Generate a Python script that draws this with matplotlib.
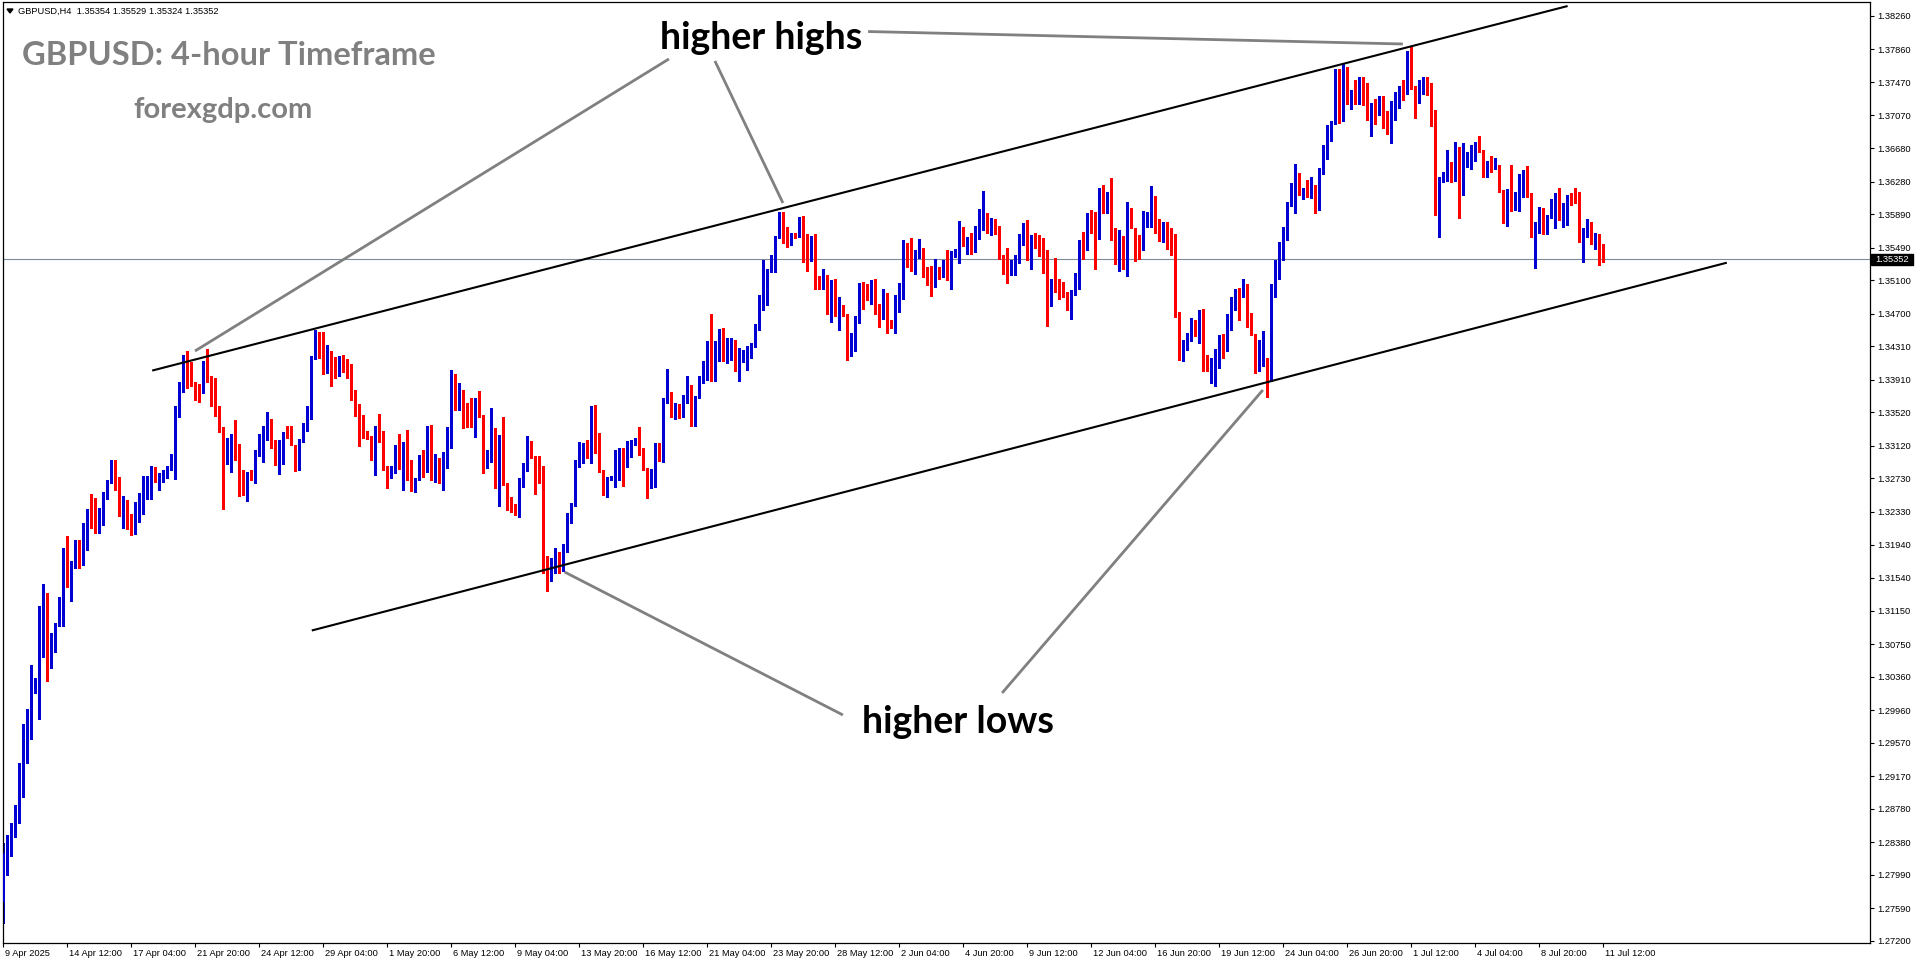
import numpy as np
import matplotlib
matplotlib.use('Agg')
import matplotlib.pyplot as plt
from matplotlib.patches import Rectangle, Polygon
from matplotlib.transforms import ScaledTranslation

# GBPUSD H4 candles (open = previous close)
first_open = 1.2766
last_open = 1.35354
closes = [
    1.2825, 1.2844, 1.2859, 1.2869, 1.2926, 1.2955, 1.2971, 1.3019, 1.3022, 1.3112,
    1.3126, 1.3052, 1.3081, 1.3096, 1.3106, 1.3174, 1.3147, 1.3169, 1.3193, 1.3175,
    1.3215, 1.3233, 1.3226, 1.3214, 1.3234, 1.3250, 1.3268, 1.3293, 1.3262, 1.3237,
    1.3244, 1.3214, 1.3212, 1.3243, 1.3252, 1.3261, 1.3272, 1.3285, 1.3270, 1.3276,
    1.3280, 1.3286, 1.3298, 1.3350, 1.3387, 1.3418, 1.3408, 1.3388, 1.3384, 1.3375,
    1.3407, 1.3391, 1.3375, 1.3349, 1.3335, 1.3308, 1.3310, 1.3322, 1.3307, 1.3264,
    1.3257, 1.3279, 1.3273, 1.3305, 1.3305, 1.3333, 1.3343, 1.3310, 1.3290, 1.3306,
    1.3327, 1.3324, 1.3313, 1.3293, 1.3318, 1.3333, 1.3357, 1.3418, 1.3448, 1.3426,
    1.3399, 1.3414, 1.3412, 1.3410, 1.3411, 1.3407, 1.3394, 1.3371, 1.3355, 1.3349,
    1.3329, 1.3322, 1.3297, 1.3328, 1.3319, 1.3285, 1.3281, 1.3282, 1.3312, 1.3286,
    1.3291, 1.3273, 1.3261, 1.3271, 1.3296, 1.3281, 1.3330, 1.3273, 1.3298, 1.3268,
    1.3304, 1.3315, 1.3397, 1.3357, 1.3369, 1.3352, 1.3342, 1.3336, 1.3367, 1.3348,
    1.3291, 1.3296, 1.3332, 1.3266, 1.3324, 1.3266, 1.3244, 1.3239, 1.3234, 1.3271,
    1.3285, 1.3307, 1.3300, 1.3289, 1.3286, 1.3172, 1.3158, 1.3170, 1.3178, 1.3168,
    1.3190, 1.3225, 1.3240, 1.3293, 1.3304, 1.3314, 1.3304, 1.3348, 1.3326, 1.3282,
    1.3259, 1.3273, 1.3274, 1.3290, 1.3305, 1.3289, 1.3301, 1.3316, 1.3319, 1.3303,
    1.3284, 1.3268, 1.3283, 1.3313, 1.3300, 1.3368, 1.3372, 1.3355, 1.3362, 1.3356,
    1.3364, 1.3374, 1.3340, 1.3371, 1.3393, 1.3409, 1.3431, 1.3399, 1.3423, 1.3447,
    1.3419, 1.3425, 1.3429, 1.3403, 1.3414, 1.3418, 1.3419, 1.3433, 1.3452, 1.3488,
    1.3518, 1.3522, 1.3537, 1.3561, 1.3583, 1.3564, 1.3556, 1.3564, 1.3562, 1.3584,
    1.3554, 1.3535, 1.3562, 1.3507, 1.3506, 1.3515, 1.3472, 1.3510, 1.3468, 1.3475,
    1.3468, 1.3427, 1.3441, 1.3461, 1.3502, 1.3492, 1.3490, 1.3497, 1.3471, 1.3466,
    1.3493, 1.3461, 1.3454, 1.3489, 1.3490, 1.3544, 1.3541, 1.3527, 1.3544, 1.3547,
    1.3524, 1.3514, 1.3503, 1.3518, 1.3517, 1.3527, 1.3511, 1.3540, 1.3544, 1.3571,
    1.3552, 1.3560, 1.3546, 1.3568, 1.3580, 1.3587, 1.3569, 1.3580, 1.3575, 1.3538,
    1.3535, 1.3519, 1.3525, 1.3532, 1.3554, 1.3573, 1.3535, 1.3559, 1.3549, 1.3544,
    1.3538, 1.3486, 1.3508, 1.3498, 1.3497, 1.3491, 1.3482, 1.3494, 1.3518, 1.3549,
    1.3546, 1.3583, 1.3582, 1.3565, 1.3611, 1.3591, 1.3613, 1.3569, 1.3533, 1.3559,
    1.3533, 1.3595, 1.3573, 1.3550, 1.3546, 1.3579, 1.3583, 1.3608, 1.3575, 1.3567,
    1.3573, 1.3548, 1.3547, 1.3471, 1.3428, 1.3431, 1.3445, 1.3453, 1.3447, 1.3458,
    1.3421, 1.3411, 1.3411, 1.3427, 1.3441, 1.3427, 1.3468, 1.3488, 1.3496, 1.3490,
    1.3501, 1.3470, 1.3446, 1.3402, 1.3411, 1.3415, 1.3393, 1.3492, 1.3530, 1.3548,
    1.3565, 1.3601, 1.3602, 1.3625, 1.3613, 1.3618, 1.3616, 1.3622, 1.3595, 1.3640,
    1.3664, 1.3690, 1.3700, 1.3749, 1.3700, 1.3755, 1.3725, 1.3730, 1.3722, 1.3743,
    1.3741, 1.3706, 1.3721, 1.3708, 1.3729, 1.3698, 1.3693, 1.3714, 1.3735, 1.3741,
    1.3739, 1.3774, 1.3741, 1.3724, 1.3746, 1.3749, 1.3743, 1.3698, 1.3608, 1.3632,
    1.3634, 1.3648, 1.3629, 1.3665, 1.3614, 1.3650, 1.3654, 1.3663, 1.3674, 1.3664,
    1.3635, 1.3648, 1.3643, 1.3647, 1.3617, 1.3580, 1.3618, 1.3594, 1.3601, 1.3628,
    1.3632, 1.3611, 1.3578, 1.3579, 1.3592, 1.3578, 1.3585, 1.3601, 1.3608, 1.3583,
    1.3585, 1.3610, 1.3608, 1.3606, 1.3559, 1.3564, 1.3580, 1.3554, 1.3557, 1.3535,
    1.35352,
]
highs = [
    1.2837, 1.2847, 1.2861, 1.2883, 1.2933, 1.2980, 1.2997, 1.3050, 1.3035, 1.3121,
    1.3147, 1.3136, 1.3088, 1.3100, 1.3131, 1.3190, 1.3204, 1.3174, 1.3200, 1.3200,
    1.3220, 1.3236, 1.3255, 1.3250, 1.3238, 1.3257, 1.3271, 1.3295, 1.3295, 1.3275,
    1.3252, 1.3247, 1.3231, 1.3245, 1.3256, 1.3276, 1.3276, 1.3288, 1.3287, 1.3280,
    1.3283, 1.3288, 1.3302, 1.3360, 1.3388, 1.3421, 1.3426, 1.3412, 1.3388, 1.3386,
    1.3414, 1.3428, 1.3395, 1.3393, 1.3360, 1.3333, 1.3321, 1.3326, 1.3343, 1.3314,
    1.3283, 1.3281, 1.3283, 1.3307, 1.3326, 1.3336, 1.3352, 1.3344, 1.3319, 1.3319,
    1.3329, 1.3336, 1.3336, 1.3312, 1.3320, 1.3339, 1.3360, 1.3419, 1.3450, 1.3448,
    1.3448, 1.3432, 1.3426, 1.3418, 1.3419, 1.3421, 1.3416, 1.3410, 1.3379, 1.3362,
    1.3349, 1.3330, 1.3324, 1.3336, 1.3350, 1.3330, 1.3288, 1.3288, 1.3313, 1.3326,
    1.3317, 1.3331, 1.3295, 1.3273, 1.3301, 1.3307, 1.3336, 1.3337, 1.3302, 1.3297,
    1.3305, 1.3335, 1.3403, 1.3398, 1.3387, 1.3379, 1.3363, 1.3369, 1.3369, 1.3378,
    1.3349, 1.3307, 1.3357, 1.3333, 1.3325, 1.3346, 1.3267, 1.3251, 1.3243, 1.3273,
    1.3291, 1.3324, 1.3318, 1.3296, 1.3300, 1.3288, 1.3180, 1.3178, 1.3190, 1.3185,
    1.3195, 1.3232, 1.3244, 1.3295, 1.3317, 1.3316, 1.3319, 1.3360, 1.3361, 1.3327,
    1.3283, 1.3275, 1.3276, 1.3307, 1.3309, 1.3309, 1.3318, 1.3319, 1.3321, 1.3334,
    1.3309, 1.3285, 1.3284, 1.3315, 1.3315, 1.3369, 1.3404, 1.3376, 1.3363, 1.3359,
    1.3373, 1.3395, 1.3385, 1.3372, 1.3395, 1.3413, 1.3437, 1.3470, 1.3437, 1.3452,
    1.3453, 1.3441, 1.3441, 1.3438, 1.3429, 1.3427, 1.3431, 1.3435, 1.3458, 1.3492,
    1.3534, 1.3524, 1.3540, 1.3563, 1.3592, 1.3592, 1.3574, 1.3566, 1.3566, 1.3586,
    1.3587, 1.3565, 1.3563, 1.3565, 1.3515, 1.3524, 1.3516, 1.3510, 1.3511, 1.3490,
    1.3480, 1.3470, 1.3447, 1.3467, 1.3507, 1.3508, 1.3505, 1.3510, 1.3511, 1.3482,
    1.3499, 1.3495, 1.3462, 1.3492, 1.3507, 1.3558, 1.3555, 1.3560, 1.3546, 1.3559,
    1.3548, 1.3526, 1.3527, 1.3535, 1.3526, 1.3534, 1.3546, 1.3545, 1.3547, 1.3581,
    1.3574, 1.3562, 1.3567, 1.3575, 1.3595, 1.3617, 1.3590, 1.3584, 1.3583, 1.3575,
    1.3540, 1.3548, 1.3534, 1.3540, 1.3565, 1.3579, 1.3582, 1.3564, 1.3566, 1.3564,
    1.3560, 1.3546, 1.3512, 1.3537, 1.3512, 1.3508, 1.3496, 1.3498, 1.3519, 1.3558,
    1.3568, 1.3590, 1.3594, 1.3592, 1.3620, 1.3624, 1.3615, 1.3632, 1.3572, 1.3570,
    1.3563, 1.3603, 1.3596, 1.3562, 1.3564, 1.3593, 1.3592, 1.3623, 1.3611, 1.3583,
    1.3580, 1.3580, 1.3573, 1.3565, 1.3472, 1.3439, 1.3447, 1.3465, 1.3463, 1.3475,
    1.3476, 1.3420, 1.3417, 1.3428, 1.3444, 1.3446, 1.3470, 1.3490, 1.3500, 1.3501,
    1.3512, 1.3506, 1.3471, 1.3444, 1.3438, 1.3449, 1.3417, 1.3506, 1.3534, 1.3556,
    1.3574, 1.3603, 1.3626, 1.3649, 1.3638, 1.3620, 1.3630, 1.3634, 1.3624, 1.3644,
    1.3672, 1.3696, 1.3701, 1.3763, 1.3763, 1.3769, 1.3765, 1.3737, 1.3749, 1.3753,
    1.3753, 1.3746, 1.3722, 1.3727, 1.3730, 1.3730, 1.3712, 1.3724, 1.3735, 1.3742,
    1.3749, 1.3784, 1.3789, 1.3742, 1.3750, 1.3753, 1.3753, 1.3746, 1.3714, 1.3634,
    1.3640, 1.3666, 1.3651, 1.3675, 1.3669, 1.3674, 1.3663, 1.3672, 1.3675, 1.3682,
    1.3666, 1.3653, 1.3658, 1.3656, 1.3648, 1.3618, 1.3619, 1.3648, 1.3616, 1.3637,
    1.3642, 1.3647, 1.3614, 1.3580, 1.3597, 1.3596, 1.3588, 1.3607, 1.3614, 1.3620,
    1.3602, 1.3612, 1.3614, 1.3620, 1.3616, 1.3572, 1.3583, 1.3576, 1.3566, 1.3565,
    1.35529,
]
lows = [
    1.2742, 1.2799, 1.2821, 1.2844, 1.2861, 1.2892, 1.2933, 1.2961, 1.3016, 1.2985,
    1.3059, 1.3031, 1.3046, 1.3065, 1.3097, 1.3097, 1.3143, 1.3126, 1.3166, 1.3166,
    1.3170, 1.3188, 1.3214, 1.3208, 1.3208, 1.3217, 1.3248, 1.3267, 1.3259, 1.3228,
    1.3214, 1.3213, 1.3205, 1.3207, 1.3221, 1.3230, 1.3248, 1.3248, 1.3269, 1.3259,
    1.3269, 1.3274, 1.3283, 1.3272, 1.3346, 1.3376, 1.3381, 1.3383, 1.3367, 1.3364,
    1.3375, 1.3388, 1.3360, 1.3348, 1.3329, 1.3236, 1.3290, 1.3281, 1.3295, 1.3252,
    1.3253, 1.3246, 1.3271, 1.3267, 1.3300, 1.3293, 1.3319, 1.3309, 1.3289, 1.3278,
    1.3290, 1.3321, 1.3313, 1.3282, 1.3283, 1.3317, 1.3330, 1.3344, 1.3416, 1.3417,
    1.3398, 1.3399, 1.3384, 1.3393, 1.3395, 1.3400, 1.3393, 1.3367, 1.3348, 1.3312,
    1.3321, 1.3320, 1.3295, 1.3277, 1.3317, 1.3283, 1.3262, 1.3274, 1.3279, 1.3284,
    1.3259, 1.3271, 1.3258, 1.3257, 1.3271, 1.3275, 1.3281, 1.3271, 1.3269, 1.3267,
    1.3259, 1.3285, 1.3309, 1.3355, 1.3355, 1.3333, 1.3335, 1.3334, 1.3323, 1.3347,
    1.3280, 1.3285, 1.3293, 1.3261, 1.3240, 1.3265, 1.3235, 1.3233, 1.3229, 1.3227,
    1.3263, 1.3282, 1.3297, 1.3255, 1.3267, 1.3160, 1.3139, 1.3150, 1.3160, 1.3160,
    1.3162, 1.3185, 1.3220, 1.3243, 1.3287, 1.3291, 1.3297, 1.3291, 1.3304, 1.3281,
    1.3253, 1.3251, 1.3271, 1.3263, 1.3271, 1.3264, 1.3287, 1.3299, 1.3313, 1.3301,
    1.3283, 1.3250, 1.3261, 1.3263, 1.3294, 1.3293, 1.3363, 1.3346, 1.3344, 1.3345,
    1.3347, 1.3363, 1.3336, 1.3336, 1.3369, 1.3387, 1.3391, 1.3390, 1.3389, 1.3413,
    1.3413, 1.3411, 1.3415, 1.3402, 1.3390, 1.3412, 1.3403, 1.3417, 1.3430, 1.3451,
    1.3474, 1.3480, 1.3520, 1.3520, 1.3560, 1.3555, 1.3550, 1.3552, 1.3561, 1.3562,
    1.3532, 1.3521, 1.3533, 1.3500, 1.3500, 1.3500, 1.3470, 1.3460, 1.3467, 1.3450,
    1.3467, 1.3415, 1.3419, 1.3426, 1.3459, 1.3476, 1.3486, 1.3482, 1.3470, 1.3454,
    1.3464, 1.3447, 1.3453, 1.3447, 1.3472, 1.3487, 1.3526, 1.3521, 1.3517, 1.3537,
    1.3514, 1.3504, 1.3491, 1.3502, 1.3512, 1.3514, 1.3510, 1.3500, 1.3538, 1.3531,
    1.3551, 1.3541, 1.3541, 1.3544, 1.3559, 1.3570, 1.3566, 1.3564, 1.3565, 1.3535,
    1.3518, 1.3507, 1.3516, 1.3516, 1.3531, 1.3552, 1.3534, 1.3524, 1.3548, 1.3539,
    1.3519, 1.3455, 1.3479, 1.3496, 1.3487, 1.3490, 1.3474, 1.3464, 1.3492, 1.3500,
    1.3535, 1.3546, 1.3566, 1.3523, 1.3559, 1.3590, 1.3590, 1.3558, 1.3529, 1.3521,
    1.3523, 1.3515, 1.3572, 1.3533, 1.3535, 1.3546, 1.3574, 1.3574, 1.3566, 1.3557,
    1.3556, 1.3547, 1.3540, 1.3466, 1.3415, 1.3414, 1.3427, 1.3437, 1.3443, 1.3435,
    1.3401, 1.3401, 1.3387, 1.3383, 1.3405, 1.3417, 1.3425, 1.3451, 1.3475, 1.3462,
    1.3490, 1.3454, 1.3444, 1.3399, 1.3403, 1.3407, 1.3371, 1.3389, 1.3490, 1.3512,
    1.3534, 1.3558, 1.3599, 1.3590, 1.3612, 1.3607, 1.3610, 1.3608, 1.3590, 1.3594,
    1.3637, 1.3655, 1.3677, 1.3697, 1.3698, 1.3718, 1.3721, 1.3715, 1.3721, 1.3721,
    1.3720, 1.3702, 1.3682, 1.3697, 1.3710, 1.3692, 1.3685, 1.3674, 1.3702, 1.3716,
    1.3725, 1.3733, 1.3739, 1.3704, 1.3722, 1.3733, 1.3731, 1.3694, 1.3588, 1.3562,
    1.3627, 1.3629, 1.3628, 1.3629, 1.3585, 1.3612, 1.3646, 1.3643, 1.3652, 1.3663,
    1.3634, 1.3634, 1.3639, 1.3643, 1.3615, 1.3578, 1.3575, 1.3593, 1.3594, 1.3593,
    1.3610, 1.3610, 1.3562, 1.3525, 1.3566, 1.3565, 1.3565, 1.3584, 1.3573, 1.3582,
    1.3574, 1.3576, 1.3600, 1.3602, 1.3556, 1.3532, 1.3562, 1.3553, 1.3547, 1.3528,
    1.35324,
]

# time axis labels, one every 16 bars
date_labels = [
    '9 Apr 2025', '14 Apr 12:00', '17 Apr 04:00', '21 Apr 20:00', '24 Apr 12:00',
    '29 Apr 04:00', '1 May 20:00', '6 May 12:00', '9 May 04:00', '13 May 20:00',
    '16 May 12:00', '21 May 04:00', '23 May 20:00', '28 May 12:00', '2 Jun 04:00',
    '4 Jun 20:00', '9 Jun 12:00', '12 Jun 04:00', '16 Jun 20:00', '19 Jun 12:00',
    '24 Jun 04:00', '26 Jun 20:00', '1 Jul 12:00', '4 Jul 04:00', '8 Jul 20:00',
    '11 Jul 12:00',
]
price_ticks = [
    1.38260, 1.37860, 1.37470, 1.37070, 1.36680, 1.36280, 1.35890, 1.35490, 1.35100,
    1.34700, 1.34310, 1.33910, 1.33520, 1.33120, 1.32730, 1.32330, 1.31940, 1.31540,
    1.31150, 1.30750, 1.30360, 1.29960, 1.29570, 1.29170, 1.28780, 1.28380, 1.27990,
    1.27590, 1.27200,
]
last_price = 1.35352

# trend objects: (bar, price) end points
channel_upper = [(37.2, 1.34020), (391.1, 1.38379)]
channel_lower = [(77.1, 1.30912), (430.9, 1.35310)]
pointer_lines = [
    [(166.4, 1.37746), (47.9, 1.34254)],
    [(177.9, 1.37722), (194.9, 1.36024)],
    [(216.2, 1.38074), (349.9, 1.37925)],
    [(209.9, 1.29902), (140.3, 1.31612)],
    [(249.7, 1.30165), (314.9, 1.33788)],
]

W, H = 1916, 964
BLUE = '#0000d2'
RED = '#ff0000'
tick_font = 'Liberation Sans'

closes = np.array(closes)
opens = np.r_[first_open, closes[:-1]]
opens[-1] = last_open
highs = np.maximum.reduce([np.array(highs), opens, closes])
lows = np.minimum.reduce([np.array(lows), opens, closes])
x = np.arange(len(closes))
up = closes >= opens

fig = plt.figure(figsize=(W / 100, H / 100), dpi=100)
ax = fig.add_axes([3 / W, 21 / H, 1867 / W, 941 / H])

ax.axhline(last_price, color='#7c8a9a', lw=0.8, zorder=1)

colors = np.where(up, BLUE, RED)
ax.vlines(x, lows, highs, colors=colors, lw=0.75, zorder=2, antialiased=False)
body_lo = np.minimum(opens, closes)
body_h = np.maximum(np.abs(closes - opens), 0.00009)
ax.bar(x, body_h, bottom=body_lo, width=0.75, color=colors, linewidth=0,
       zorder=3, antialiased=False)

for (x0, y0), (x1, y1) in (channel_upper, channel_lower):
    ax.plot([x0, x1], [y0, y1], color='black', lw=1.5, zorder=4,
            solid_capstyle='butt')
for (x0, y0), (x1, y1) in pointer_lines:
    ax.plot([x0, x1], [y0, y1], color='#808080', lw=2.0, zorder=4,
            solid_capstyle='butt', clip_on=False)

ax.set_xlim(-0.1, 466.7)
ax.set_ylim(1.271755, 1.384271)

for s in ax.spines.values():
    s.set_color('black')
    s.set_linewidth(0.9)

ax.yaxis.tick_right()
ax.set_yticks(price_ticks)
ax.set_yticklabels([f'{p:.5f}' for p in price_ticks], fontsize=6.7,
                   family=tick_font)
ax.tick_params(axis='y', direction='out', length=3, width=0.8, pad=2.5,
               colors='black')

ax.set_xticks(np.arange(len(date_labels)) * 16)
ax.set_xticklabels(date_labels, fontsize=6.7, family=tick_font)
ax.tick_params(axis='x', direction='out', length=3, width=0.8, pad=1.5,
               colors='black')
shift = ScaledTranslation(2 / 100, 0, fig.dpi_scale_trans)
for lbl in ax.get_xticklabels():
    lbl.set_ha('left')
    lbl.set_transform(lbl.get_transform() + shift)


def fx(px):
    return px / W


def fy(py):
    return 1 - py / H


# current price box on the price scale
fig.patches.append(Rectangle((fx(1871), fy(264.5)), 42 / W, 11 / H,
                             transform=fig.transFigure, color='black'))
fig.text(fx(1892), fy(259.2), f'{last_price:.5f}', color='white',
         fontsize=6.7, family=tick_font, ha='center', va='center')

# chart header
fig.patches.append(Polygon([[fx(7), fy(9)], [fx(13), fy(9)], [fx(10), fy(13)]],
                           closed=True, transform=fig.transFigure,
                           color='black'))
fig.text(fx(18), fy(11), 'GBPUSD,H4  1.35354 1.35529 1.35324 1.35352',
         fontsize=6.7, family=tick_font, va='center')

# annotations
fig.text(fx(22), fy(65), 'GBPUSD: 4-hour Timeframe', color='#808080',
         fontsize=23.5, family='Lato', weight='bold', va='baseline')
fig.text(fx(133), fy(118), 'forexgdp.com', color='#808080',
         fontsize=21, family='Lato', weight='bold', va='baseline')
fig.text(fx(660), fy(49), 'higher highs', color='black',
         fontsize=27, family='Lato', weight='bold', va='baseline')
fig.text(fx(862), fy(733), 'higher lows', color='black',
         fontsize=27, family='Lato', weight='bold', va='baseline')

fig.savefig('out.png', dpi=100)
